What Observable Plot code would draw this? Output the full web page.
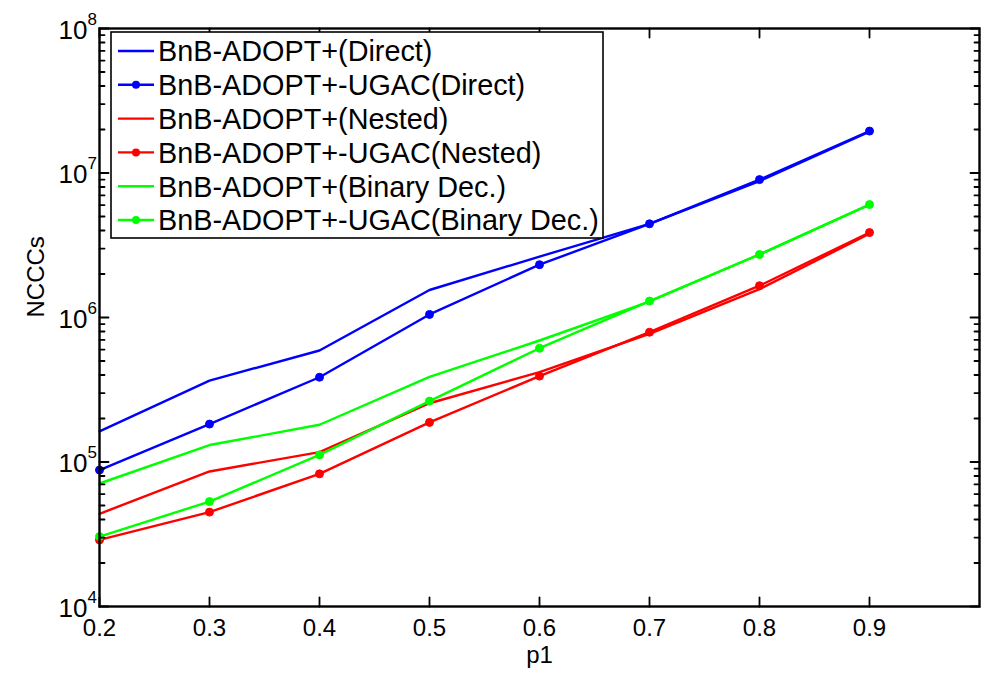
<!DOCTYPE html>
<html><head><meta charset="utf-8">
<script src="https://cdn.jsdelivr.net/npm/d3@7"></script>
<script src="https://cdn.jsdelivr.net/npm/@observablehq/plot@0.6"></script>
<style>
body{margin:0;background:#fff;}
#chart{width:989px;height:674px;}
</style>
</head><body><div id="chart"></div>
<script>
// ---- data ----
const p1 = [0.2, 0.3, 0.4, 0.5, 0.6, 0.7, 0.8, 0.9];
const directBnB   = [163000, 366000, 591000, 1550000, 2640000, 4450000, 8800000, 19300000];
const directUGAC  = [88000, 183000, 386000, 1050000, 2320000, 4450000, 9000000, 19500000];
const nestedBnB   = [43800, 86000, 117000, 255000, 419000, 770000, 1570000, 3800000];
const nestedUGAC  = [28900, 45000, 82800, 188000, 393000, 791000, 1660000, 3870000];
const binaryBnB   = [71000, 131000, 181000, 388000, 693000, 1290000, 2730000, 6050000];
const binaryUGAC  = [30500, 53200, 112000, 264000, 613000, 1300000, 2730000, 6050000];

const seriesNames = [
  "BnB-ADOPT+(Direct)", "BnB-ADOPT+-UGAC(Direct)",
  "BnB-ADOPT+(Nested)", "BnB-ADOPT+-UGAC(Nested)",
  "BnB-ADOPT+(Binary Dec.)", "BnB-ADOPT+-UGAC(Binary Dec.)"
];
const seriesColors = ["#0000ff", "#0000ff", "#ff0000", "#ff0000", "#00ff00", "#00ff00"];
const seriesMarker = [false, true, false, true, false, true];
const seriesValues = [directBnB, directUGAC, nestedBnB, nestedUGAC, binaryBnB, binaryUGAC];

const xTicks = [0.2, 0.3, 0.4, 0.5, 0.6, 0.7, 0.8, 0.9];
const yMajor = [1e4, 1e5, 1e6, 1e7, 1e8];
const yExponents = ["4", "5", "6", "7", "8"];
const yMinor = [];
for (const d of [1e4, 1e5, 1e6, 1e7]) for (const m of [2,3,4,5,6,7,8,9]) yMinor.push(d * m);

const FONT = "'Liberation Sans', Arial, Helvetica, sans-serif";

// a plain straight tick shape for vector marks
const tickShape = {draw(context, l) { context.moveTo(0, 0); context.lineTo(0, -l); }};

const marks = [];
seriesNames.forEach((name, k) => {
  const rows = p1.map((x, i) => ({x, y: seriesValues[k][i]}));
  marks.push(Plot.line(rows, {x: "x", y: "y", stroke: seriesColors[k], strokeWidth: 2.4}));
  if (seriesMarker[k]) {
    marks.push(Plot.dot(rows, {x: "x", y: "y", r: 4, fill: seriesColors[k], stroke: seriesColors[k], strokeWidth: 1}));
  }
});

const tickStyle = {stroke: "black", strokeWidth: 1.8, shape: tickShape, anchor: "start"};
marks.push(
  // inward ticks
  Plot.vector(xTicks, {x: d => d, frameAnchor: "bottom", rotate: 0, length: 9, ...tickStyle}),
  Plot.vector(xTicks, {x: d => d, frameAnchor: "top", rotate: 180, length: 9, ...tickStyle}),
  Plot.vector(yMajor, {y: d => d, frameAnchor: "left", rotate: 90, length: 9, ...tickStyle}),
  Plot.vector(yMajor, {y: d => d, frameAnchor: "right", rotate: -90, length: 9, ...tickStyle}),
  Plot.vector(yMinor, {y: d => d, frameAnchor: "left", rotate: 90, length: 5, ...tickStyle}),
  Plot.vector(yMinor, {y: d => d, frameAnchor: "right", rotate: -90, length: 5, ...tickStyle}),
  // tick labels
  Plot.axisX({ticks: xTicks, anchor: "bottom", tickSize: 0, tickPadding: 12, tickFormat: d => d.toFixed(1), fontSize: 24, fill: "black", label: null}),
  Plot.axisY({ticks: yMajor, anchor: "left", tickSize: 0, tickFormat: () => "", label: null}),
  Plot.text(yMajor, {y: d => d, frameAnchor: "left", text: () => "10", dx: -12, dy: 2, textAnchor: "end", fontSize: 26, fill: "black"}),
  Plot.text(yMajor, {y: d => d, frameAnchor: "left", text: (d, i) => yExponents[i], dx: -12, dy: -9, textAnchor: "start", fontSize: 17, fill: "black"}),
  Plot.text(["NCCCs"], {frameAnchor: "left", text: d => d, dx: -63, rotate: -90, fontSize: 24, fill: "black"}),
  Plot.text(["p1"], {frameAnchor: "bottom", text: d => d, dy: 56, fontSize: 24, fill: "black"}),
  Plot.frame({stroke: "black", strokeWidth: 2.4})
);

const svg = Plot.plot({
  width: 989, height: 674,
  marginLeft: 99, marginRight: 10, marginTop: 28, marginBottom: 68,
  x: {domain: [0.2, 1.0], label: null},
  y: {type: "log", domain: [1e4, 1e8], label: null},
  style: {fontFamily: FONT, fontSize: "24px", background: "#fff", color: "black"},
  marks
});

// legend (inside plot, top-left)
const g = d3.select(svg).append("g").attr("font-family", FONT).attr("font-size", 28.8).attr("text-anchor", "start");
g.append("rect").attr("x", 111).attr("y", 32).attr("width", 492).attr("height", 206)
  .attr("fill", "white").attr("stroke", "black").attr("stroke-width", 1.6);
seriesNames.forEach((name, k) => {
  const cy = 51 + k * 33.8;
  g.append("line").attr("x1", 118).attr("x2", 154).attr("y1", cy).attr("y2", cy)
    .attr("stroke", seriesColors[k]).attr("stroke-width", 2.4);
  if (seriesMarker[k]) g.append("circle").attr("cx", 136).attr("cy", cy).attr("r", 4).attr("fill", seriesColors[k]);
  g.append("text").attr("x", 158).attr("y", cy).attr("dy", "0.36em").attr("fill", "black").attr("text-anchor", "start").text(name);
});

document.getElementById("chart").appendChild(svg);
</script>
</body></html>
